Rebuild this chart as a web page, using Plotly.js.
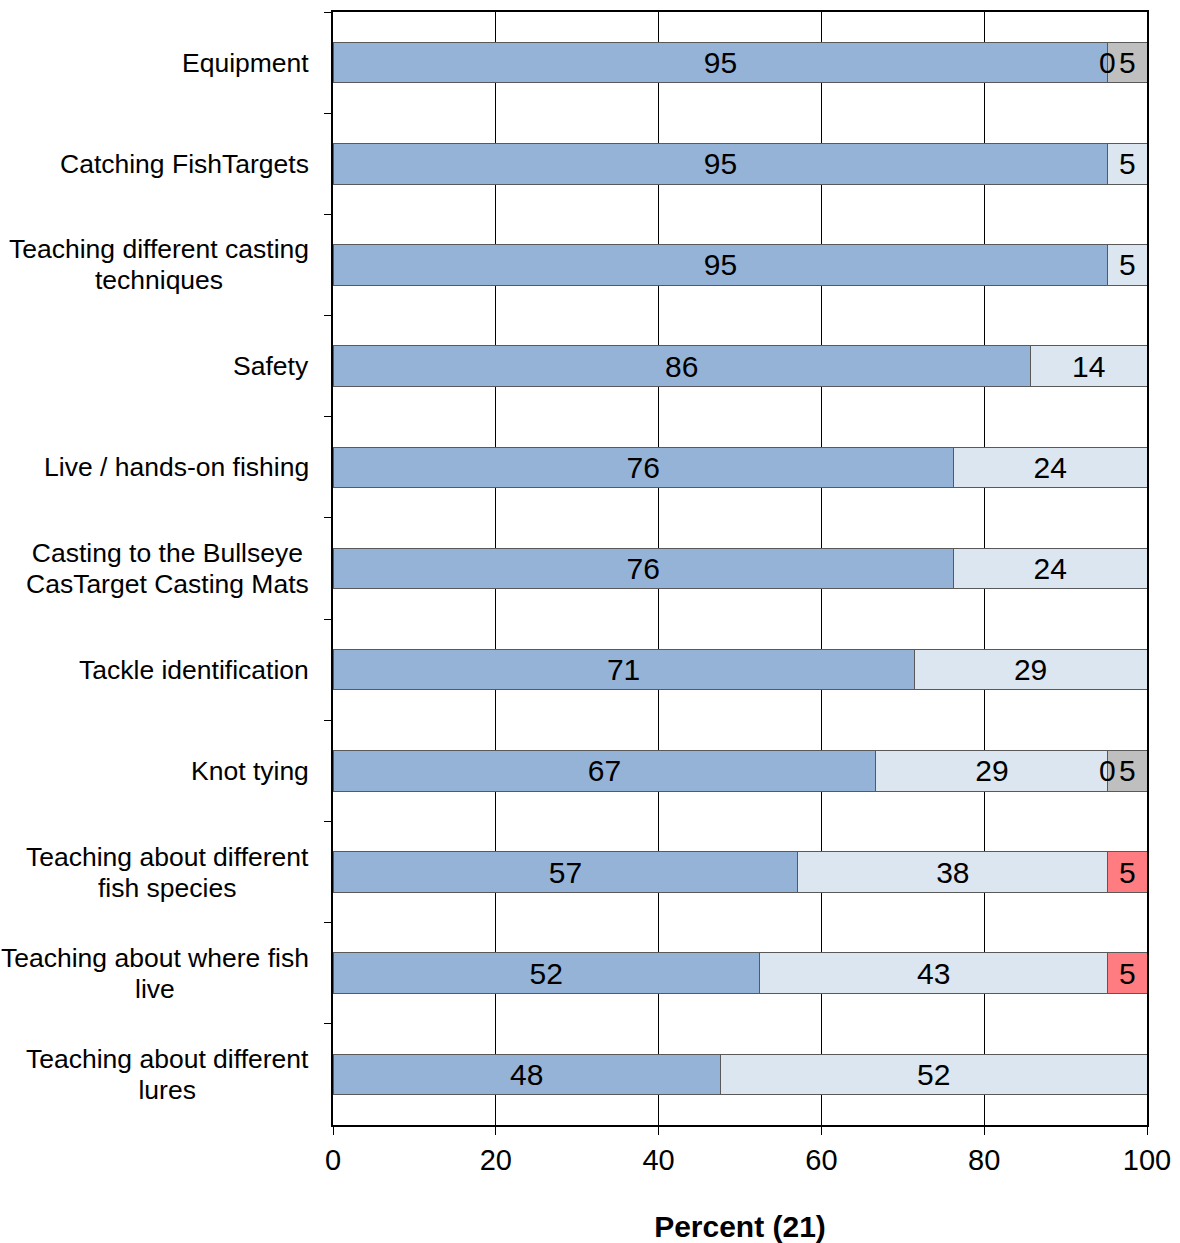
<!DOCTYPE html>
<html>
<head>
<meta charset="utf-8">
<script src="https://cdn.plot.ly/plotly-3.0.1.min.js"></script>
<style>html,body{margin:0;padding:0;background:#fff;}#chart{width:1180px;height:1243px;}</style>
</head>
<body>
<div id="chart"></div>
<script>
const categories = [
  "Equipment",
  "Catching FishTargets",
  "Teaching different casting<br>techniques",
  "Safety",
  "Live / hands-on fishing",
  "Casting to the Bullseye<br>CasTarget Casting Mats",
  "Tackle identification",
  "Knot tying",
  "Teaching about different<br>fish species",
  "Teaching about where fish<br>live",
  "Teaching about different<br>lures"
];
const seriesBlue  = [95.2, 95.2, 95.2, 85.7, 76.2, 76.2, 71.4, 66.7, 57.1, 52.4, 47.6];
const seriesLight = [null, 4.8, 4.8, 14.3, 23.8, 23.8, 28.6, 28.5, 38.1, 42.8, 52.4];
const seriesRed   = [0, null, null, null, null, null, null, 0, 4.8, 4.8, null];
const seriesGray  = [4.8, null, null, null, null, null, null, 4.8, null, null, null];
const xTicks = [0, 20, 40, 60, 80, 100];
const xTitle = "Percent (21)";

const font = "Liberation Sans, Arial, sans-serif";
const labelFont = {family: font, size: 30, color: '#000'};
function lab(v) { return v === null ? '' : Math.round(v).toString(); }
function mk(vals, color) {
  return {
    type: 'bar', orientation: 'h', y: categories, x: vals,
    marker: {color: color, line: {color: '#595959', width: 1}},
    width: 0.4,
    text: vals.map(v => (v === null || v === 0) ? '' : lab(v)),
    texttemplate: '%{text}',
    textposition: 'inside', insidetextanchor: 'middle',
    textfont: labelFont,
    constraintext: 'none', cliponaxis: false,
    hoverinfo: 'x+y'
  };
}
const data = [
  mk(seriesBlue, '#95b3d7'),
  mk(seriesLight, '#dce6f1'),
  mk(seriesRed, '#ff7c80'),
  mk(seriesGray, '#bfbfbf')
];
const annotations = categories.map(c => ({
  xref: 'paper', yref: 'y', x: 0, y: c, xanchor: 'right', yanchor: 'middle',
  xshift: -22, align: 'center', showarrow: false,
  text: c.split('<br>').map(s => '<span style="font-size:26.5px">' + s + '</span>').join('<br>'),
  font: {family: font, size: 24, color: '#000'}
}));
// labels for zero-width segments, placed where the segment sits in the stack
seriesRed.forEach((v, i) => {
  if (v === 0) {
    annotations.push({
      xref: 'x', yref: 'y', x: seriesBlue[i] + (seriesLight[i] || 0), y: categories[i],
      xanchor: 'center', yanchor: 'middle', showarrow: false,
      text: lab(v), font: labelFont
    });
  }
});
const layout = {
  width: 1180, height: 1243,
  margin: {l: 333, r: 33, t: 12, b: 118},
  barmode: 'stack', showlegend: false,
  paper_bgcolor: '#fff', plot_bgcolor: '#fff',
  uniformtext: {mode: 'show', minsize: 30},
  xaxis: {
    range: [0, 100], tickvals: xTicks, ticktext: xTicks.map(String),
    showgrid: true, gridcolor: '#000', gridwidth: 1,
    showline: true, linecolor: '#000', linewidth: 2, mirror: true,
    ticks: 'outside', ticklen: 8, tickcolor: '#000', tickwidth: 1,
    tickfont: {family: font, size: 29, color: '#000'},
    zeroline: false,
    title: {text: '<b>' + xTitle + '</b>', font: {family: font, size: 30, color: '#000'}, standoff: 42}
  },
  yaxis: {
    type: 'category', range: [categories.length - 0.5, -0.5], showticklabels: false,
    tickson: 'boundaries', ticks: 'outside', ticklen: 7, tickcolor: '#000', tickwidth: 1,
    showgrid: false, showline: true, linecolor: '#000', linewidth: 2, mirror: true,
    zeroline: false
  },
  annotations: annotations
};
Plotly.newPlot('chart', data, layout, {displayModeBar: false, staticPlot: true});
</script>
</body>
</html>
